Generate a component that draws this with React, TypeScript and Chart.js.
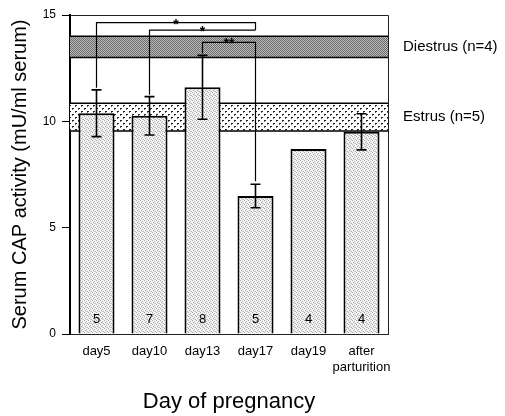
import React, { useEffect, useRef } from 'react';
import { Chart, registerables } from 'chart.js';

Chart.register(...registerables);

const categories: (string | string[])[] = ['day5', 'day10', 'day13', 'day17', 'day19', ['after', 'parturition']];
const meanValues = [10.38, 10.26, 11.6, 6.49, 8.7, 9.51];
const errorValues = [1.1, 0.9, 1.5, 0.55, 0, 0.85];
const sampleSizes = ['5', '7', '8', '5', '4', '4'];
const yTicks = [0, 5, 10, 15];
const bandNames = ['Diestrus (n=4)', 'Estrus (n=5)'];
const bandLow = [13.0, 9.55];
const bandHigh = [14.0, 10.85];
const bracketFrom = [0, 1, 2];
const bracketTo = [3, 3, 3];
const bracketLevel = [14.64, 14.29, 13.71];
const bracketLegEnd: (number | null)[] = [14.29, 14.29, null];
const bracketMarks = ['*', '*', '**'];

const FONT = '"Liberation Sans", Arial, Helvetica, sans-serif';

function makePattern(size: number, base: string, dots: [number, number, number, number, string][]) {
  const c = document.createElement('canvas');
  c.width = size;
  c.height = size;
  const g = c.getContext('2d')!;
  g.fillStyle = base;
  g.fillRect(0, 0, size, size);
  for (const [x, y, w, h, col] of dots) {
    g.fillStyle = col;
    g.fillRect(x, y, w, h);
  }
  return g.createPattern(c, 'repeat')!;
}

export default function App() {
  const ref = useRef<HTMLCanvasElement>(null);
  useEffect(() => {
    const canvas = ref.current!;
    const ctx = canvas.getContext('2d')!;
    const barPattern = makePattern(4, '#f4f4f4', [
      [0, 0, 1, 1, '#a4a4a4'], [2, 1, 1, 1, '#b4b4b4'], [1, 2, 1, 1, '#a4a4a4'], [3, 3, 1, 1, '#b4b4b4'], [2, 3, 1, 1, '#d0d0d0'],
    ]);
    const diestrusPattern = makePattern(2, '#6a6a6a', [[1, 0, 1, 1, '#bdbdbd'], [0, 1, 1, 1, '#bdbdbd']]);
    const estrusPattern = makePattern(6, '#ffffff', [[0, 0, 2, 1, '#222'], [0, 1, 1, 1, '#666'], [3, 3, 2, 1, '#222'], [3, 4, 1, 1, '#666']]);
    const bandPatterns = [diestrusPattern, estrusPattern];

    const overlay = {
      id: 'overlay',
      beforeDatasetsDraw(chart: any) {
        const { ctx: c, chartArea: a, scales } = chart;
        const y = scales.y;
        c.save();
        for (let i = 0; i < bandNames.length; i++) {
          const top = y.getPixelForValue(bandHigh[i]);
          const bot = y.getPixelForValue(bandLow[i]);
          c.fillStyle = bandPatterns[i];
          c.fillRect(a.left, top, a.right - a.left, bot - top);
          c.strokeStyle = '#000';
          c.lineWidth = 1.5;
          c.beginPath();
          c.moveTo(a.left, top);
          c.lineTo(a.right, top);
          c.moveTo(a.left, bot);
          c.lineTo(a.right, bot);
          c.stroke();
        }
        c.restore();
      },
      afterDatasetsDraw(chart: any) {
        const { ctx: c, chartArea: a, scales } = chart;
        const y = scales.y;
        const meta = chart.getDatasetMeta(0);
        c.save();
        // frame
        c.strokeStyle = '#222';
        c.lineWidth = 1;
        c.beginPath();
        c.moveTo(a.left, a.top + 0.5);
        c.lineTo(a.right + 0.5, a.top + 0.5);
        c.lineTo(a.right + 0.5, a.bottom);
        c.stroke();
        // error bars
        c.strokeStyle = '#000';
        c.lineWidth = 1.6;
        for (let i = 0; i < meanValues.length; i++) {
          if (!errorValues[i]) continue;
          const x = meta.data[i].x;
          const t = y.getPixelForValue(meanValues[i] + errorValues[i]);
          const b = y.getPixelForValue(meanValues[i] - errorValues[i]);
          c.beginPath();
          c.moveTo(x, t);
          c.lineTo(x, b);
          c.moveTo(x - 5, t);
          c.lineTo(x + 5, t);
          c.moveTo(x - 5, b);
          c.lineTo(x + 5, b);
          c.stroke();
        }
        // significance brackets
        c.lineWidth = 1.2;
        c.fillStyle = '#000';
        c.font = 'bold 14px ' + FONT;
        c.textAlign = 'center';
        c.textBaseline = 'alphabetic';
        for (let k = 0; k < bracketFrom.length; k++) {
          const f = bracketFrom[k];
          const t = bracketTo[k];
          const xf = meta.data[f].x;
          const xt = meta.data[t].x;
          const yl = y.getPixelForValue(bracketLevel[k]);
          const ys = y.getPixelForValue(meanValues[f] + errorValues[f]) - 2;
          const legEnd = bracketLegEnd[k];
          const ye = legEnd === null ? y.getPixelForValue(meanValues[t] + errorValues[t]) - 3 : y.getPixelForValue(legEnd);
          c.beginPath();
          c.moveTo(xf, ys);
          c.lineTo(xf, yl);
          c.lineTo(xt, yl);
          c.lineTo(xt, ye);
          c.stroke();
          c.fillText(bracketMarks[k], (xf + xt) / 2, yl + 6);
        }
        // n labels
        c.font = '13px ' + FONT;
        c.textBaseline = 'middle';
        for (let i = 0; i < sampleSizes.length; i++) {
          c.fillText(sampleSizes[i], meta.data[i].x, a.bottom - 15);
        }
        // band labels
        c.font = '15px ' + FONT;
        c.textAlign = 'left';
        for (let i = 0; i < bandNames.length; i++) {
          const mid = (y.getPixelForValue(bandHigh[i]) + y.getPixelForValue(bandLow[i])) / 2;
          c.fillText(bandNames[i], a.right + 15, mid);
        }
        c.restore();
      },
    };

    const chart = new Chart(ctx, {
      type: 'bar',
      data: {
        labels: categories as any,
        datasets: [
          {
            data: meanValues,
            backgroundColor: barPattern as any,
            borderColor: '#000',
            borderWidth: { left: 2, right: 2, top: 2, bottom: 0 } as any,
            borderSkipped: 'start',
            barPercentage: 0.68,
            categoryPercentage: 1.0,
          },
        ],
      },
      options: {
        animation: false,
        responsive: false,
        devicePixelRatio: 1,
        layout: { padding: { left: 0, right: 117, top: 15, bottom: 0 } },
        plugins: { legend: { display: false }, tooltip: { enabled: false } },
        scales: {
          x: {
            grid: { display: false, drawTicks: false },
            border: { display: true, color: '#222', width: 1 },
            ticks: { color: '#000', font: { family: FONT, size: 13, lineHeight: 1.25 }, padding: 9, maxRotation: 0, autoSkip: false },
            title: { display: true, text: 'Day of pregnancy', color: '#000', font: { family: FONT, size: 22 }, padding: { top: 0, bottom: 1 } },
            afterFit: (s: any) => { s.height = 82; },
          },
          y: {
            min: 0,
            max: 15,
            afterBuildTicks: (s: any) => { s.ticks = yTicks.map((v) => ({ value: v })); },
            grid: { display: true, drawOnChartArea: false, drawTicks: true, tickLength: 8, color: '#000' },
            border: { display: true, color: '#000', width: 2 },
            ticks: { color: '#000', font: { family: FONT, size: 12 }, padding: 6 },
            title: { display: true, text: 'Serum CAP activity (mU/ml serum)', color: '#000', font: { family: FONT, size: 20 }, padding: { top: 8, bottom: 0 } },
            afterFit: (s: any) => { s.width = 70; },
          },
        },
      },
      plugins: [overlay],
    });
    return () => chart.destroy();
  }, []);

  return (
    <div style={{ position: 'absolute', left: 0, top: 0, width: 505, height: 416, background: '#fff' }}>
      <canvas ref={ref} width={505} height={416} style={{ display: 'block', width: 505, height: 416 }} />
    </div>
  );
}
